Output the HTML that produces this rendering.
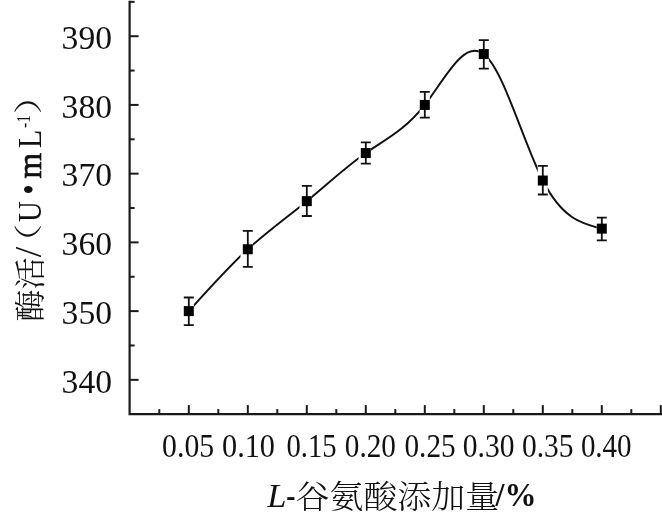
<!DOCTYPE html>
<html><head><meta charset="utf-8"><title>chart</title>
<style>
html,body{margin:0;padding:0;background:#fff;}
svg{display:block;filter:blur(0.35px);}
text{font-family:"Liberation Serif","Noto Serif CJK SC",serif;fill:#111;}
.cjk{font-family:"Noto Serif CJK SC","Liberation Serif",serif;}
</style></head><body>
<svg width="662" height="519" viewBox="0 0 662 519">
<rect width="662" height="519" fill="#fff"/>
<g stroke="#1a1a1a" stroke-width="2" fill="none" stroke-linecap="butt">
<path d="M129.6,0.8 V414.1 H662" stroke-width="2.2"/>
<path d="M129.6,379.85 h9"/>
<path d="M129.6,345.49 h5"/>
<path d="M129.6,311.12 h9"/>
<path d="M129.6,276.75 h5"/>
<path d="M129.6,242.39 h9"/>
<path d="M129.6,208.03 h5"/>
<path d="M129.6,173.66 h9"/>
<path d="M129.6,139.30 h5"/>
<path d="M129.6,104.93 h9"/>
<path d="M129.6,70.56 h5"/>
<path d="M129.6,36.20 h9"/>
<path d="M129.6,1.84 h5"/>
<path d="M159.30,414.1 v-5"/>
<path d="M188.80,414.1 v-9"/>
<path d="M218.30,414.1 v-5"/>
<path d="M247.80,414.1 v-9"/>
<path d="M277.30,414.1 v-5"/>
<path d="M306.80,414.1 v-9"/>
<path d="M336.30,414.1 v-5"/>
<path d="M365.80,414.1 v-9"/>
<path d="M395.30,414.1 v-5"/>
<path d="M424.80,414.1 v-9"/>
<path d="M454.30,414.1 v-5"/>
<path d="M483.80,414.1 v-9"/>
<path d="M513.30,414.1 v-5"/>
<path d="M542.80,414.1 v-9"/>
<path d="M572.30,414.1 v-5"/>
<path d="M601.80,414.1 v-9"/>
<path d="M631.30,414.1 v-5"/>
<path d="M660.80,414.1 v-9"/>
</g>
<clipPath id="gaps">
<rect x="193.80" y="0" width="46.70" height="519"/>
<rect x="252.80" y="0" width="46.70" height="519"/>
<rect x="311.80" y="0" width="46.70" height="519"/>
<rect x="370.80" y="0" width="48.90" height="519"/>
<rect x="429.80" y="0" width="48.90" height="519"/>
<rect x="488.80" y="0" width="48.90" height="519"/>
<rect x="547.80" y="0" width="48.90" height="519"/>
</clipPath>
<path d="M188.80,311.12 C208.47,289.18 228.13,267.24 247.80,249.26 C267.47,231.29 287.13,217.28 306.80,201.15 C326.47,185.02 346.13,166.76 365.80,153.04 C385.47,139.32 405.13,130.13 424.80,104.93 C444.47,79.73 464.13,38.51 483.80,54.07 C503.47,69.63 523.13,141.97 542.80,180.53 C562.47,219.09 582.13,223.87 601.80,228.64" fill="none" stroke="#111" stroke-width="1.95" clip-path="url(#gaps)"/>
<g stroke="#111" stroke-width="1.8" fill="none">
<path d="M188.80,297.5 V325.2 M183.80,297.5 h10 M183.80,325.2 h10"/>
<path d="M247.80,230.9 V266.9 M242.80,230.9 h10 M242.80,266.9 h10"/>
<path d="M306.80,185.8 V216.0 M301.80,185.8 h10 M301.80,216.0 h10"/>
<path d="M365.80,142.4 V163.6 M360.80,142.4 h10 M360.80,163.6 h10"/>
<path d="M424.80,91.9 V117.7 M419.80,91.9 h10 M419.80,117.7 h10"/>
<path d="M483.80,40.1 V68.6 M478.80,40.1 h10 M478.80,68.6 h10"/>
<path d="M542.80,165.8 V194.5 M537.80,165.8 h10 M537.80,194.5 h10"/>
<path d="M601.80,217.7 V240.4 M596.80,217.7 h10 M596.80,240.4 h10"/>
</g>
<rect x="183.80" y="306.12" width="10" height="10" fill="#000"/>
<rect x="242.80" y="244.26" width="10" height="10" fill="#000"/>
<rect x="301.80" y="196.15" width="10" height="10" fill="#000"/>
<rect x="360.80" y="148.04" width="10" height="10" fill="#000"/>
<rect x="419.80" y="99.93" width="10" height="10" fill="#000"/>
<rect x="478.80" y="49.07" width="10" height="10" fill="#000"/>
<rect x="537.80" y="175.53" width="10" height="10" fill="#000"/>
<rect x="596.80" y="223.64" width="10" height="10" fill="#000"/>
<text x="61.6" y="392.5" font-size="34.3" textLength="50.4" lengthAdjust="spacingAndGlyphs">340</text>
<text x="61.6" y="323.7" font-size="34.3" textLength="50.4" lengthAdjust="spacingAndGlyphs">350</text>
<text x="61.6" y="255.0" font-size="34.3" textLength="50.4" lengthAdjust="spacingAndGlyphs">360</text>
<text x="61.6" y="186.3" font-size="34.3" textLength="50.4" lengthAdjust="spacingAndGlyphs">370</text>
<text x="61.6" y="117.5" font-size="34.3" textLength="50.4" lengthAdjust="spacingAndGlyphs">380</text>
<text x="61.6" y="48.8" font-size="34.3" textLength="50.4" lengthAdjust="spacingAndGlyphs">390</text>
<text x="162.1" y="456.5" font-size="34.3" textLength="52.0" lengthAdjust="spacingAndGlyphs">0.05</text>
<text x="222.0" y="456.5" font-size="34.3" textLength="53.0" lengthAdjust="spacingAndGlyphs">0.10</text>
<text x="286.5" y="456.5" font-size="34.3" textLength="50.1" lengthAdjust="spacingAndGlyphs">0.15</text>
<text x="344.8" y="456.5" font-size="34.3" textLength="51.1" lengthAdjust="spacingAndGlyphs">0.20</text>
<text x="404.5" y="456.5" font-size="34.3" textLength="51.1" lengthAdjust="spacingAndGlyphs">0.25</text>
<text x="462.8" y="456.5" font-size="34.3" textLength="51.7" lengthAdjust="spacingAndGlyphs">0.30</text>
<text x="522.0" y="456.5" font-size="34.3" textLength="51.6" lengthAdjust="spacingAndGlyphs">0.35</text>
<text x="580.9" y="456.5" font-size="34.3" textLength="50.7" lengthAdjust="spacingAndGlyphs">0.40</text>
<text x="267.2" y="506.7" font-size="33" font-style="italic" textLength="19.2" lengthAdjust="spacingAndGlyphs">L</text>
<text x="286.2" y="506.6" font-size="33" font-weight="bold" textLength="9.2" lengthAdjust="spacingAndGlyphs">-</text>
<text class="cjk" x="295.6" y="508.2" font-size="32" font-weight="300" textLength="203.5" lengthAdjust="spacingAndGlyphs">谷氨酸添加量</text>
<text x="495.6" y="506.3" font-size="34" font-weight="bold" textLength="41" lengthAdjust="spacingAndGlyphs">/%</text>
<text class="cjk" transform="translate(40.7,321.8) rotate(-90)" font-size="31" textLength="64.5" lengthAdjust="spacingAndGlyphs" font-weight="300">酶活</text>
<text transform="translate(41,257.3) rotate(-90)" font-size="37" textLength="10.5" lengthAdjust="spacingAndGlyphs">/</text>
<text class="cjk" transform="translate(39.4,261.2) rotate(-90)" font-size="28.5" textLength="37.5" lengthAdjust="spacingAndGlyphs" font-weight="300">（</text>
<text transform="translate(41,222) rotate(-90)" font-size="34" textLength="20.8" lengthAdjust="spacingAndGlyphs">U</text>
<text transform="translate(40.5,194.6) rotate(-90)" font-size="36" textLength="10" lengthAdjust="spacingAndGlyphs">•</text>
<text transform="translate(41,178.4) rotate(-90)" font-size="34" textLength="25.6" lengthAdjust="spacingAndGlyphs" stroke="#111" stroke-width="0.7">m</text>
<text transform="translate(41,148.3) rotate(-90)" font-size="34" textLength="18.5" lengthAdjust="spacingAndGlyphs">L</text>
<text transform="translate(30.3,128) rotate(-90)" font-size="19" textLength="13" lengthAdjust="spacingAndGlyphs">-1</text>
<text class="cjk" transform="translate(39.4,114.2) rotate(-90)" font-size="28.5" textLength="37.5" lengthAdjust="spacingAndGlyphs" font-weight="300">）</text>
</svg></body></html>
